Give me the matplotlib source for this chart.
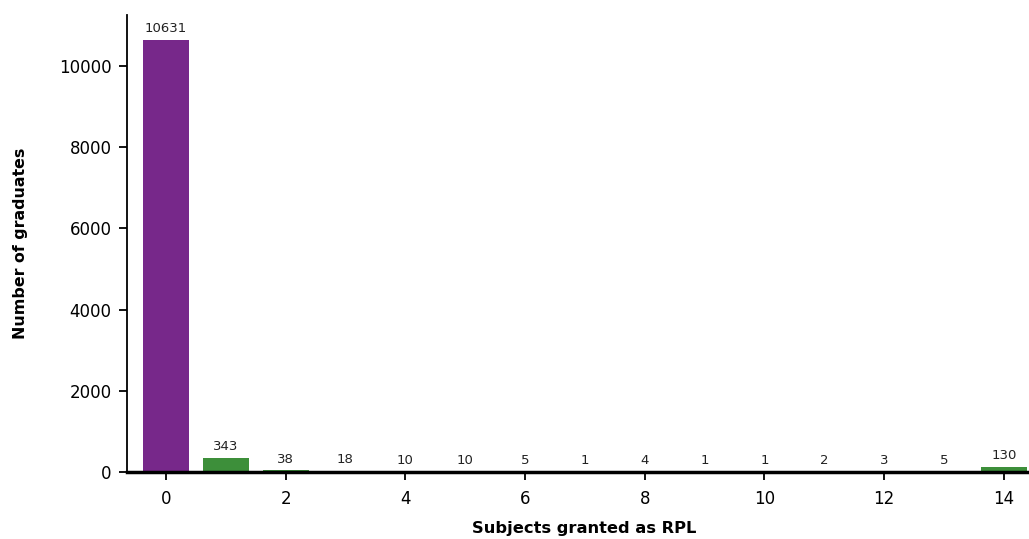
import matplotlib
matplotlib.use("Agg")
import matplotlib.pyplot as plt

subjects = list(range(15))
graduates = [10631, 343, 38, 18, 10, 10, 5, 1, 4, 1, 1, 2, 3, 5, 130]
bar_colors = ["#77288A"] + ["#3D8F3A"] * 14
xticks = [0, 2, 4, 6, 8, 10, 12, 14]
yticks = [0, 2000, 4000, 6000, 8000, 10000]

fig = plt.figure(figsize=(10.29, 5.39), dpi=100)
ax = fig.add_axes([0.1234, 0.1243, 0.8766, 0.848])
ax.bar(subjects, graduates, width=0.77, color=bar_colors)
for x, v in zip(subjects, graduates):
    ax.annotate(str(v), (x, v), xytext=(0, 3.5), textcoords="offset points",
                ha="center", va="bottom", fontsize=9.5, color="#222222")

ax.set_xlim(-0.65, 14.42)
ax.set_ylim(0, 11256)
ax.set_xticks(xticks)
ax.set_yticks(yticks)
ax.tick_params(axis="both", labelsize=12, length=6, width=1.3, colors="black")
ax.tick_params(axis="x", pad=7)
ax.tick_params(axis="y", pad=5)
for s in ["top", "right"]:
    ax.spines[s].set_visible(False)
ax.spines["left"].set_linewidth(1.3)
ax.spines["bottom"].set_linewidth(2.5)
ax.spines["bottom"].set_zorder(5)
ax.set_xlabel("Subjects granted as RPL", fontsize=11.7, fontweight="bold")
ax.set_ylabel("Number of graduates", fontsize=11.4, fontweight="bold")
ax.xaxis.set_label_coords((584 - 127) / (1029 - 127), (471 - 520) / (471 - 15))
ax.yaxis.set_label_coords((28 - 127) / (1029 - 127), 0.5)

fig.savefig("out.png", dpi=100)
